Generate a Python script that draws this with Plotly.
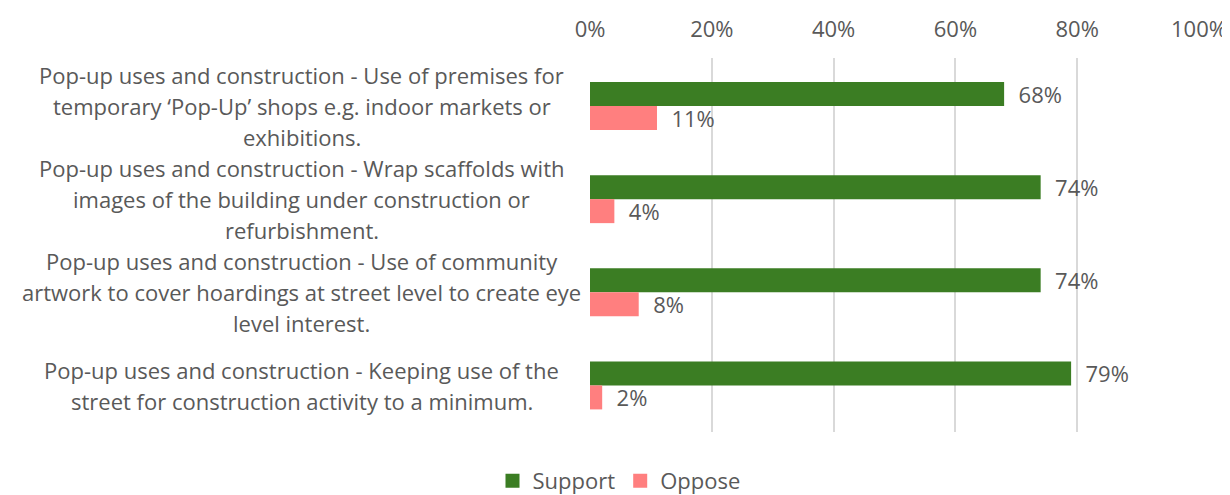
import plotly.graph_objects as go

categories = [
    "Pop-up uses and construction - Use of premises for<br>temporary ‘Pop-Up’ shops e.g. indoor markets or<br>exhibitions.",
    "Pop-up uses and construction - Wrap scaffolds with<br>images of the building under construction or<br>refurbishment.",
    "Pop-up uses and construction - Use of community<br>artwork to cover hoardings at street level to create eye<br>level interest.",
    "Pop-up uses and construction - Keeping use of the<br>street for construction activity to a minimum.",
]
support = [0.68, 0.74, 0.74, 0.79]
oppose = [0.11, 0.04, 0.08, 0.02]
series_names = ["Support", "Oppose"]
series_colors = ["#3B7D23", "#FF7F7F"]
tick_vals = [0, 0.2, 0.4, 0.6, 0.8, 1.0]
tick_text = ["0%", "20%", "40%", "60%", "80%", "100%"]

FONT = "Open Sans"
GRAY = "#595959"
FS = 22

# page body adds an 8px offset, so the figure is sized/margined to compensate
W, H = 1222, 487

fig = go.Figure()
for name, vals, color in zip(series_names, [support, oppose], series_colors):
    fig.add_trace(go.Bar(
        y=list(range(len(categories))), x=vals, name=name, orientation="h",
        marker=dict(color=color, line=dict(width=0)),
        text=["\u00a0\u00a0" + f"{v*100:.0f}%" for v in vals],
        textposition="outside", constraintext="none", cliponaxis=False,
        textfont=dict(family=FONT, size=FS, color=GRAY),
        hoverinfo="skip", showlegend=False,
    ))
# legend entries with larger square swatches
for name, color in zip(series_names, series_colors):
    fig.add_trace(go.Scatter(
        x=[None], y=[None], mode="markers", name=name,
        marker=dict(symbol="square", size=14, color=color),
        hoverinfo="skip", showlegend=True,
    ))

# Category labels, centred, one annotation per line
line_gap = 31
for i, cat in enumerate(categories):
    lines = cat.split("<br>")
    n = len(lines)
    for j, ln in enumerate(lines):
        fig.add_annotation(
            x=-0.473, xref="paper", y=i, yref="y",
            text=ln, showarrow=False, xanchor="center", yanchor="middle",
            yshift=((n - 1) / 2 - j) * line_gap,
            font=dict(family=FONT, size=FS, color=GRAY),
        )

fig.update_layout(
    width=W, height=H,
    margin=dict(l=582, r=31, t=50, b=63, autoexpand=False),
    paper_bgcolor="white", plot_bgcolor="white",
    barmode="group", bargap=0.485, bargroupgap=0,
    font=dict(family=FONT, size=FS, color=GRAY),
    showlegend=True,
    legend=dict(orientation="h", x=0.5, xanchor="center", xref="container",
                y=1 - 473 / H, yanchor="middle", yref="container",
                font=dict(family=FONT, size=FS, color=GRAY), itemwidth=30,
                traceorder="normal"),
    xaxis=dict(side="top", range=[0, 1], tickvals=tick_vals, ticktext=tick_text,
               showgrid=True, gridcolor="#D9D9D9", gridwidth=1.5, zeroline=False,
               showline=False, ticks="", automargin=False, ticklabelstandoff=16,
               tickfont=dict(family=FONT, size=FS, color=GRAY)),
    yaxis=dict(autorange="reversed", showticklabels=False, showgrid=False,
               zeroline=False, showline=False, ticks="", automargin=False),
)

fig.write_html("out.html")
